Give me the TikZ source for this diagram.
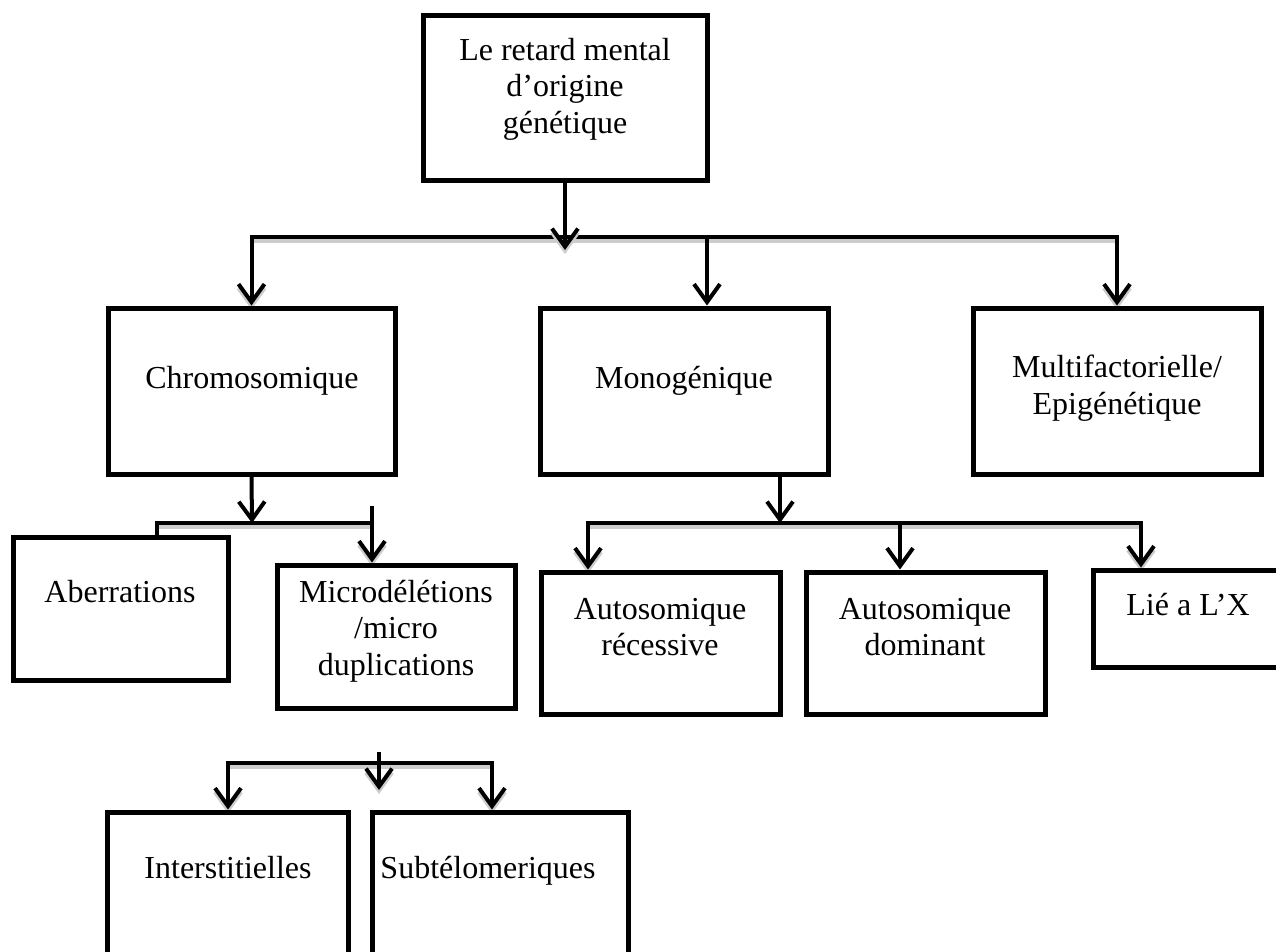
\documentclass[tikz,border=0pt]{standalone}
\usepackage{fontspec}
\setmainfont{Liberation Serif}
\usetikzlibrary{arrows.meta}
\pgfdeclarelayer{links}
\pgfsetlayers{links,main}
\begin{document}
\begin{tikzpicture}[x=1pt, y=-1pt,
  box/.style={draw=black, line width=5pt, inner sep=0pt, fill=white},
  txt/.style={align=center, anchor=north, inner sep=0pt, text=black,
    font=\fontsize{32}{36.5}\selectfont},
  conn/.style={draw=black, line width=4pt},
  tip/.tip={Straight Barb[length=18pt, width=26pt]},
  arr/.style={conn, -tip},
  dbl/.style={conn, tip-tip},
  sh/.style={preaction={draw=black!20, line width=4pt, transform canvas={yshift=-4pt}}}
]
\useasboundingbox (0,0) rectangle (1276,951);

% boxes
\node[box, minimum width=284pt, minimum height=165pt] (top)   at (565,97.5) {};
\node[box, minimum width=287pt, minimum height=166pt] (chrom) at (251.5,391) {};
\node[box, minimum width=288pt, minimum height=166pt] (mono)  at (684,391) {};
\node[box, minimum width=288pt, minimum height=166pt] (multi) at (1117,391) {};
\node[box, minimum width=215pt, minimum height=143pt] (aber)  at (120.5,608.5) {};
\node[box, minimum width=238pt, minimum height=143pt] (micro) at (396,636.5) {};
\node[box, minimum width=239pt, minimum height=142pt] (ar)    at (660.5,643) {};
\node[box, minimum width=239pt, minimum height=142pt] (ad)    at (925.5,643) {};
\node[box, minimum width=207pt, minimum height=97pt]  (lie)   at (1196.5,618.5) {};
\node[box, minimum width=241pt, minimum height=198pt] (inter) at (227.5,911) {};
\node[box, minimum width=256pt, minimum height=198pt] (sub)   at (500,911) {};

% labels
\node[txt] (ttop)   at (565,38)   {Le retard mental\\d’origine\\génétique};
\node[txt] (tchrom) at (252,366)  {Chromosomique};
\node[txt] (tmono)  at (684,366)  {Monogénique};
\node[txt] (tmulti) at (1117,355) {Multifactorielle/\\Epigénétique};
\node[txt] (taber)  at (120,580)  {Aberrations};
\node[txt] (tmicro) at (396,580)  {Microdélétions\\/micro\\duplications};
\node[txt] (tar)    at (660,598)  {Autosomique\\récessive};
\node[txt] (tad)    at (925,598)  {Autosomique\\dominant};
\node[txt] (tlie)   at (1188,593) {Lié a L’X};
\node[txt] (tinter) at (228,856)  {Interstitielles};
\node[txt] (tsub)   at (488,856)  {Subtélomeriques};

\begin{pgfonlayer}{links}
% first level
\coordinate (b0)  at (565,237);
\coordinate (b0t) at (565,250);
\coordinate (bm)  at (707,237);
\draw[dbl, sh] (chrom.north) |- (b0) -| (multi.north);
\draw[arr, sh] (top.south) -- (b0t);
\draw[arr] (bm) -- (bm |- mono.north);

% chromosomal branch
\coordinate (c0) at (252,523);
\coordinate (cL) at (157,523);
\coordinate (cR) at (372,523);
\coordinate (cS) at (372,506);
\draw[conn, sh, -tip] (cL |- aber.north) -- (cL) -- (cR) -- (cR |- micro.north);
\draw[conn] (cS) -- (cR);
\draw[arr] (chrom.south) -- (c0);

% monogenic branch
\coordinate (m0) at (780,523);
\coordinate (mL) at (588,523);
\coordinate (mM) at (900,523);
\coordinate (mR) at (1141,523);
\draw[dbl, sh] (mL |- ar.north) -- (mL) -- (mR) -- (mR |- lie.north);
\draw[arr] (mono.south -| m0) -- (m0);
\draw[arr] (mM) -- (mM |- ad.north);

% microdeletion subtypes
\coordinate (s0) at (379,752);
\coordinate (s1) at (379,790);
\coordinate (sL) at (228,763);
\coordinate (sR) at (492,763);
\draw[dbl, sh] (sL |- inter.north) -- (sL) -- (sR) -- (sR |- sub.north);
\draw[arr, sh] (s0) -- (s1);
\end{pgfonlayer}
\end{tikzpicture}
\end{document}
